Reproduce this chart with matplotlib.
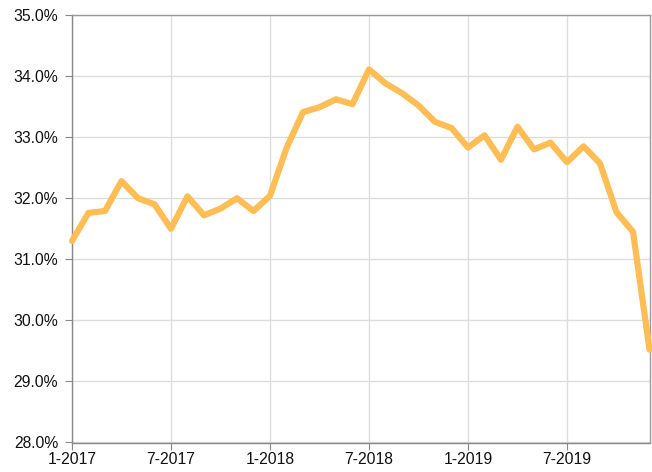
import matplotlib
matplotlib.use("Agg")
import matplotlib.pyplot as plt
from matplotlib.ticker import FuncFormatter

# monthly values, 1-2017 .. 12-2019 (percent)
months = [f"{m}-{y}" for y in (2017, 2018, 2019) for m in range(1, 13)]
values = [
    31.30, 31.76, 31.79, 32.28, 32.00, 31.90, 31.50, 32.03, 31.72, 31.83, 32.00, 31.79,
    32.04, 32.82, 33.41, 33.49, 33.62, 33.54, 34.11, 33.88, 33.72, 33.52, 33.25, 33.15,
    32.83, 33.03, 32.63, 33.17, 32.80, 32.91, 32.59, 32.85, 32.57, 31.77, 31.45, 29.52,
]
tick_idx = [0, 6, 12, 18, 24, 30]

plt.rcParams["font.family"] = ["Liberation Sans", "DejaVu Sans"]

fig = plt.figure(figsize=(6.52, 4.72), dpi=100)
ax = fig.add_axes([0.1104, 0.0625, 0.8858, 0.9057])

x = list(range(len(values)))
ax.plot(x, values, color="#FFBE55", linewidth=4.5, solid_joinstyle="round",
        solid_capstyle="round", zorder=3, clip_on=False)

ax.set_xlim(0, len(values) - 1)
ax.set_ylim(28, 35)
ax.set_yticks([28, 29, 30, 31, 32, 33, 34, 35])
ax.yaxis.set_major_formatter(FuncFormatter(lambda v, p: f"{v:.1f}%"))
ax.set_xticks(tick_idx)
ax.set_xticklabels([months[i] for i in tick_idx])

ax.grid(True, color="#dddddd", linewidth=1)
ax.set_axisbelow(True)
for side in ("left", "bottom", "top", "right"):
    ax.spines[side].set_color("#999999")
    ax.spines[side].set_linewidth(1)
ax.spines["left"].set_color("#888888")
ax.spines["bottom"].set_color("#888888")
ax.tick_params(axis="both", colors="#888888", labelcolor="#111111",
               labelsize=11.3, length=5)
ax.tick_params(axis="y", pad=5)
ax.tick_params(axis="x", pad=2)

fig.savefig("out.png", dpi=100)
